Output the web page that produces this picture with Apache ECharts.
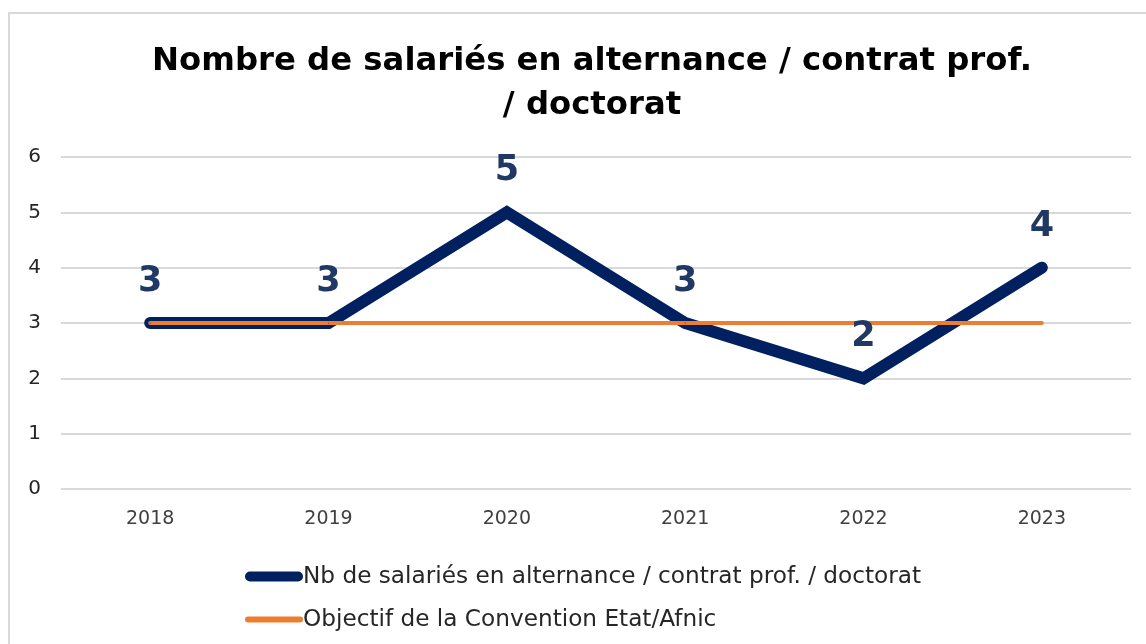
<!DOCTYPE html>
<html><head><meta charset="utf-8">
<script src="https://cdn.jsdelivr.net/npm/echarts@6/dist/echarts.min.js"></script>
<style>html,body{margin:0;padding:0;background:#fff;}#frame{position:absolute;left:8px;top:12px;width:1146px;height:640px;border:2px solid #d9d9d9;box-sizing:border-box;}#c{position:absolute;left:0;top:0;width:1146px;height:644px;}</style>
</head><body><div id="frame"></div><div id="c"></div>
<script>
const categories = ['2018','2019','2020','2021','2022','2023'];
const salaries = [3, 3, 5, 3, 2, 4];
const objectif = [3, 3, 3, 3, 3, 3];
const seriesNames = ['Nb de salariés en alternance / contrat prof. / doctorat', 'Objectif de la Convention Etat/Afnic'];
const titleText = 'Nombre de salariés en alternance / contrat prof.\n/ doctorat';
const FONT = '"DejaVu Sans", sans-serif';
const chart = echarts.init(document.getElementById('c'), null, {renderer:'canvas'});
const iconNavy = 'path://M5,0 L53,0 A5,5 0 0 1 53,10 L5,10 A5,5 0 0 1 5,0 Z';
const iconOrange = 'path://M3,0 L55,0 A3,3 0 0 1 55,6 L3,6 A3,3 0 0 1 3,0 Z';
chart.setOption({
  animation:false,
  title:{text:titleText,left:587,textAlign:'center',top:35,textStyle:{fontFamily:FONT,fontWeight:'bold',fontSize:32.3,color:'#000',lineHeight:44}},
  grid:{left:61,right:15,top:157,bottom:155},
  legend:{orient:'vertical',left:240,top:560,itemWidth:58,itemHeight:10,itemGap:20,
    textStyle:{fontFamily:FONT,fontSize:23.2,color:'#262626',padding:[0,0,0,-5]},
    data:[{name:seriesNames[0],icon:iconNavy,itemStyle:{color:'#002060'}},
          {name:seriesNames[1],icon:iconOrange,itemStyle:{color:'#ED7D31'}}]},
  xAxis:{type:'category',data:categories,boundaryGap:true,
    axisLine:{show:false},axisTick:{show:false},
    axisLabel:{fontFamily:FONT,fontSize:19,color:'#404040',margin:21}},
  yAxis:{type:'value',min:0,max:6,interval:1,
    axisLabel:{fontFamily:FONT,fontSize:20,color:'#262626',margin:20},
    splitLine:{lineStyle:{color:'#d9d9d9',width:2}}},
  series:[
    {name:seriesNames[0],type:'line',data:salaries,symbol:'circle',symbolSize:1,showSymbol:true,
      lineStyle:{color:'#002060',width:12,cap:'round',join:'miter'},itemStyle:{color:'#002060'},
      label:{show:true,position:'top',distance:23,fontFamily:FONT,fontWeight:'bold',fontSize:35,color:'#203864'}},
    {name:seriesNames[1],type:'line',data:objectif,symbol:'none',
      lineStyle:{color:'#ED7D31',width:4,cap:'round'},itemStyle:{color:'#ED7D31'}}
  ]
});
</script></body></html>
